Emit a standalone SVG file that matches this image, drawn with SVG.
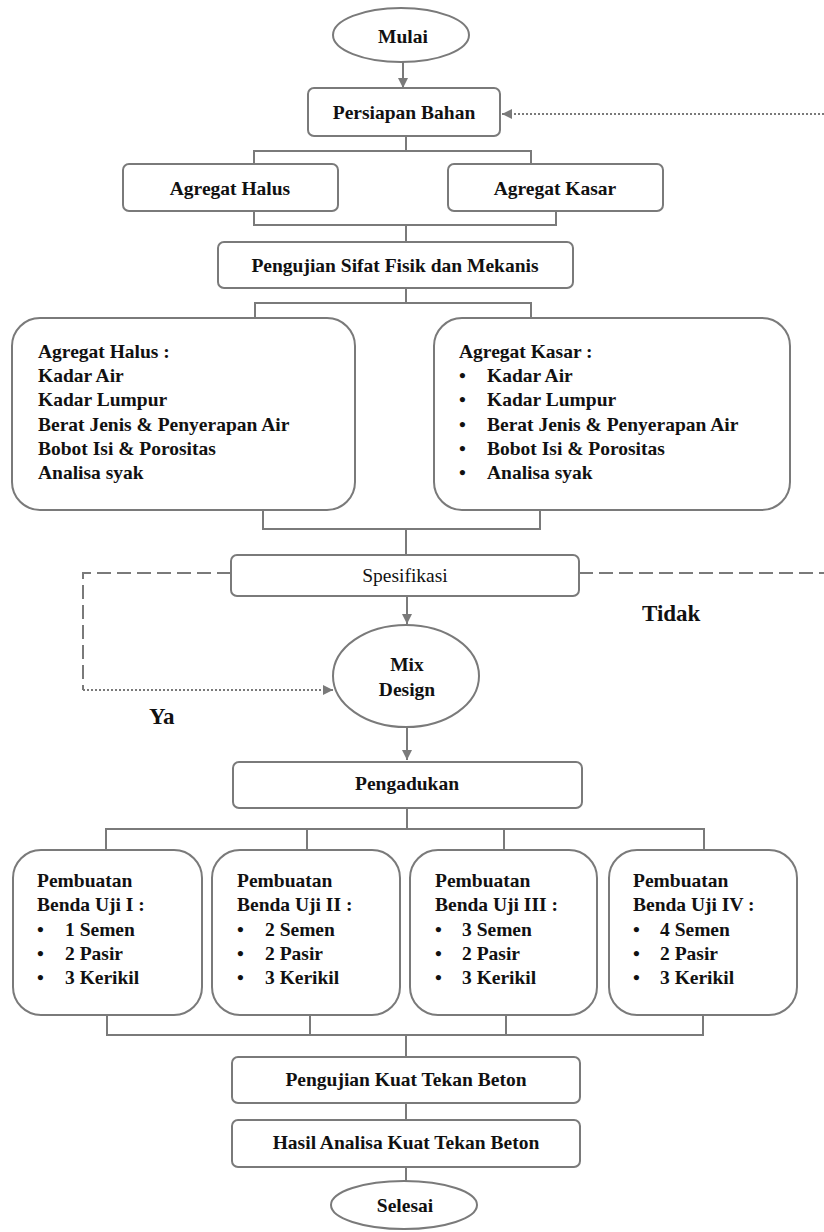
<svg xmlns="http://www.w3.org/2000/svg" width="824" height="1232" viewBox="0 0 824 1232" font-family="Liberation Serif, Times New Roman, serif">
<style>
.box{fill:#fff;stroke:#7a7a7a;stroke-width:2}
text{font-family:'Liberation Serif','Times New Roman',serif;font-weight:bold;font-size:19.5px;fill:#111}
.c{text-anchor:middle}
.ln{stroke:#7a7a7a;stroke-width:2;fill:none}
.dot{stroke:#7a7a7a;stroke-width:2;fill:none;stroke-dasharray:2 2}
.dash{stroke:#7a7a7a;stroke-width:2;fill:none;stroke-dasharray:14 6}
</style>
<defs>
<marker id="ah" markerUnits="userSpaceOnUse" markerWidth="12" markerHeight="12" refX="11" refY="6" orient="auto">
<path d="M1,1 L11,6 L1,11 z" fill="#7a7a7a"/>
</marker>
</defs>
<rect width="824" height="1232" fill="#fff"/>

<g id="connectors">
<line class="ln" x1="403" y1="62" x2="403" y2="88" marker-end="url(#ah)"/>
<line class="dot" x1="824" y1="114" x2="502" y2="114" marker-end="url(#ah)"/>
<path class="ln" d="M406,136 V151 M254,164 V151 H531 V164"/>
<path class="ln" d="M254,211 V225 H556 V211 M406,225 V242"/>
<path class="ln" d="M406,288 V303 M255,318 V303 H531 V318"/>
<path class="ln" d="M263,510 V529 H540 V510 M406,529 V555"/>
<path class="dash" d="M231,573 H83 V690"/>
<line class="dot" x1="83" y1="690" x2="333" y2="690" marker-end="url(#ah)"/>
<line class="dash" x1="579" y1="573" x2="824" y2="573"/>
<line class="ln" x1="407" y1="596" x2="407" y2="624" marker-end="url(#ah)"/>
<line class="ln" x1="407" y1="727" x2="407" y2="760" marker-end="url(#ah)"/>
<path class="ln" d="M407,808 V829 M106,850 V829 H704 V850 M307,829 V850 M504,829 V850"/>
<path class="ln" d="M107,1015 V1035 H703 V1015 M310,1015 V1035 M506,1015 V1035 M406,1035 V1057"/>
<line class="ln" x1="406" y1="1103" x2="406" y2="1120"/>
<line class="ln" x1="406" y1="1167" x2="406" y2="1181"/>
</g>

<g id="mulai">
<ellipse class="box" cx="401" cy="35" rx="68" ry="27"/>
<text class="c" x="403" y="43">Mulai</text>
</g>
<g id="persiapan">
<rect class="box" x="308" y="88" width="192" height="48" rx="6"/>
<text class="c" x="404" y="119">Persiapan Bahan</text>
</g>
<g id="agregat-halus">
<rect class="box" x="123" y="164" width="215" height="47" rx="6"/>
<text class="c" x="230" y="195">Agregat Halus</text>
</g>
<g id="agregat-kasar">
<rect class="box" x="448" y="164" width="215" height="47" rx="6"/>
<text class="c" x="555" y="195">Agregat Kasar</text>
</g>
<g id="pengujian-sifat">
<rect class="box" x="218" y="242" width="355" height="46" rx="6"/>
<text class="c" x="395" y="272">Pengujian Sifat Fisik dan Mekanis</text>
</g>
<g id="detail-halus">
<rect class="box" x="12" y="318" width="343" height="192" rx="28"/>
<text x="38" y="358">Agregat Halus :</text>
<text x="38" y="382">Kadar Air</text>
<text x="38" y="406">Kadar Lumpur</text>
<text x="38" y="431">Berat Jenis &amp; Penyerapan Air</text>
<text x="38" y="455">Bobot Isi &amp; Porositas</text>
<text x="38" y="479">Analisa syak</text>
</g>
<g id="detail-kasar">
<rect class="box" x="434" y="318" width="356" height="192" rx="28"/>
<text x="459" y="358">Agregat Kasar :</text>
<text x="459" y="382">•<tspan x="487">Kadar Air</tspan></text>
<text x="459" y="406">•<tspan x="487">Kadar Lumpur</tspan></text>
<text x="459" y="431">•<tspan x="487">Berat Jenis &amp; Penyerapan Air</tspan></text>
<text x="459" y="455">•<tspan x="487">Bobot Isi &amp; Porositas</tspan></text>
<text x="459" y="479">•<tspan x="487">Analisa syak</tspan></text>
</g>
<g id="spesifikasi">
<rect class="box" x="231" y="555" width="348" height="41" rx="6"/>
<text class="c" x="405" y="582" style="font-weight:normal">Spesifikasi</text>
</g>
<g id="label-tidak"><text x="642" y="621" style="font-size:23px">Tidak</text></g>
<g id="label-ya"><text x="149" y="724" style="font-size:23px">Ya</text></g>
<g id="mix-design">
<ellipse class="box" cx="406" cy="676" rx="73" ry="51"/>
<text class="c" x="407" y="671">Mix</text>
<text class="c" x="407" y="696">Design</text>
</g>
<g id="pengadukan">
<rect class="box" x="233" y="762" width="349" height="46" rx="6"/>
<text class="c" x="407" y="790">Pengadukan</text>
</g>
<g id="benda-1">
<rect class="box" x="13" y="850" width="189" height="165" rx="28"/>
<text x="37" y="887">Pembuatan</text>
<text x="37" y="911">Benda Uji I :</text>
<text x="37" y="936">•<tspan x="65">1 Semen</tspan></text>
<text x="37" y="960">•<tspan x="65">2 Pasir</tspan></text>
<text x="37" y="984">•<tspan x="65">3 Kerikil</tspan></text>
</g>
<g id="benda-2">
<rect class="box" x="212" y="850" width="188" height="165" rx="28"/>
<text x="237" y="887">Pembuatan</text>
<text x="237" y="911">Benda Uji II :</text>
<text x="237" y="936">•<tspan x="265">2 Semen</tspan></text>
<text x="237" y="960">•<tspan x="265">2 Pasir</tspan></text>
<text x="237" y="984">•<tspan x="265">3 Kerikil</tspan></text>
</g>
<g id="benda-3">
<rect class="box" x="410" y="850" width="187" height="165" rx="28"/>
<text x="435" y="887">Pembuatan</text>
<text x="435" y="911">Benda Uji III :</text>
<text x="435" y="936">•<tspan x="462">3 Semen</tspan></text>
<text x="435" y="960">•<tspan x="462">2 Pasir</tspan></text>
<text x="435" y="984">•<tspan x="462">3 Kerikil</tspan></text>
</g>
<g id="benda-4">
<rect class="box" x="609" y="850" width="188" height="165" rx="28"/>
<text x="633" y="887">Pembuatan</text>
<text x="633" y="911">Benda Uji IV :</text>
<text x="633" y="936">•<tspan x="660">4 Semen</tspan></text>
<text x="633" y="960">•<tspan x="660">2 Pasir</tspan></text>
<text x="633" y="984">•<tspan x="660">3 Kerikil</tspan></text>
</g>
<g id="pengujian-kuat">
<rect class="box" x="232" y="1057" width="348" height="46" rx="6"/>
<text class="c" x="406" y="1086">Pengujian Kuat Tekan Beton</text>
</g>
<g id="hasil-analisa">
<rect class="box" x="232" y="1120" width="348" height="47" rx="6"/>
<text class="c" x="406" y="1149">Hasil Analisa Kuat Tekan Beton</text>
</g>
<g id="selesai">
<ellipse class="box" cx="404" cy="1205" rx="73" ry="24"/>
<text class="c" x="405" y="1212">Selesai</text>
</g>
</svg>
